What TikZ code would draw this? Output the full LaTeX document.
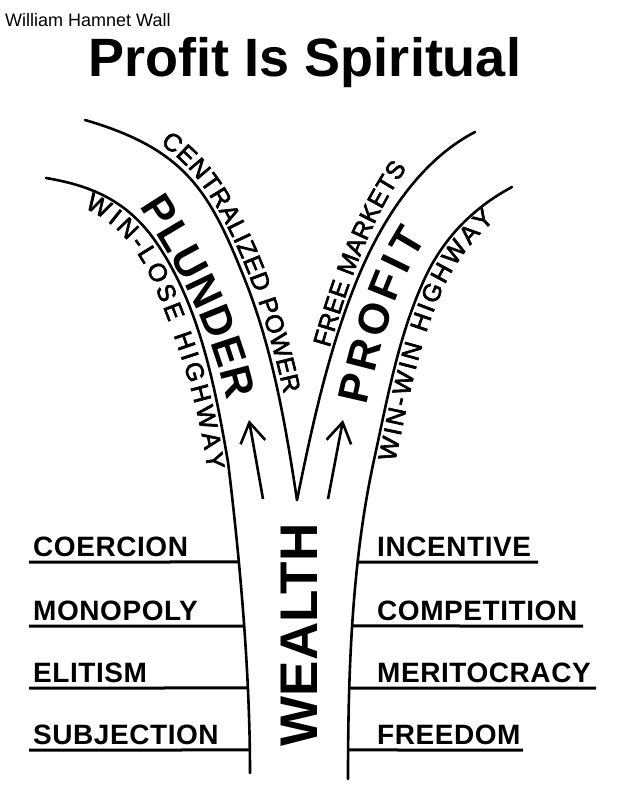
\documentclass[tikz,border=0pt]{standalone}
\usepackage{fontspec}
\setmainfont{Liberation Sans}
\usetikzlibrary{arrows.meta,decorations.text,intersections}
\newcommand\curvefont{\fontsize{25}{25}\selectfont\addfontfeature{FakeBold=2.5}}
\newcommand\roadfont{\fontsize{43}{43}\selectfont\bfseries}
\newcommand\listfont{\fontsize{28}{28}\selectfont\bfseries\addfontfeature{LetterSpace=2}}
\tikzset{
  road/.style={line width=2.6pt, line cap=round},
  rule/.style={line width=3pt},
  upar/.style={line width=2.6pt, -{Straight Barb[length=20pt,width=25pt,line width=2.6pt]}},
  lbl/.style={inner sep=0pt, anchor=base west, font=\listfont},
  curvelabel/.style={decorate, decoration={text along path, text align=fit to path, text={|\curvefont|#1}}},
  roadlabel/.style={decorate, decoration={text along path, text align=fit to path, text={|\roadfont|#1}}}
}
\begin{document}
\begin{tikzpicture}[x=1pt,y=-1pt]
\fill[white] (0,0) rectangle (618,800);
\useasboundingbox (0,0) rectangle (618,800);

% headings
\node[inner sep=0pt, anchor=base west, font=\fontsize{18}{18}\selectfont] (author) at (5,27) {William Hamnet Wall};
\node[inner sep=0pt, anchor=base, font=\fontsize{54}{54}\selectfont\bfseries] (title) at (305,77) {Profit Is Spiritual};

% road edges
\draw[road, name path=outerL] (46,178) .. controls (95.3,186.2) and (130.3,203.4) .. (158,245)
   .. controls (200.2,308.2) and (215.1,387.1) .. (228,462)
   .. controls (240,560) and (250,673) .. (250,773);
\draw[road] (85,120) .. controls (185.8,149.4) and (209.9,191.6) .. (245,280)
   .. controls (272.8,349.8) and (285.7,425.7) .. (297,500);
\draw[road] (297,500) .. controls (312.2,425.5) and (328.3,350.4) .. (357,280)
   .. controls (380.8,221.7) and (419,161) .. (475,132);
\draw[road, name path=outerR] (348,779) .. controls (348,674) and (351.6,562.6) .. (374,460)
   .. controls (387.2,399.4) and (398.3,336.4) .. (424,280)
   .. controls (442.6,239) and (472.4,208.2) .. (512,187);

% curved labels
\path[curvelabel={WIN-LOSE HIGHWAY}] (84,208) .. controls (118,222.4) and (140.2,252.1) .. (154.6,286.2) .. controls (179.4,345.2) and (199.2,406.6) .. (207.5,470);
\path[curvelabel={CENTRALIZED POWER}] (160,144) .. controls (187.4,162.5) and (206.9,188.5) .. (222.4,217.6) .. controls (252.1,273.2) and (270.1,332.5) .. (284,394);
\path[roadlabel={PLUNDER}] (139,207) .. controls (179,267.6) and (211,329.8) .. (227,401);
\path[curvelabel={FREE MARKETS}] (329.5,348) .. controls (348,284.6) and (370,220) .. (407,168);
\path[roadlabel={PROFIT}] (367,406) .. controls (380.2,347.5) and (394,287.8) .. (427,238);
\path[curvelabel={WIN-WIN HIGHWAY}] (395,462) .. controls (407.8,403.4) and (418.3,343.3) .. (443.1,288.7) .. controls (455.1,262.3) and (473.2,239.1) .. (495,220);

% arrows
\coordinate (la0) at (263,499);
\coordinate (la1) at (249,420);
\coordinate (ra0) at (328,499);
\coordinate (ra1) at (343,420);
\draw[upar] (la0) -- (la1);
\draw[upar] (ra0) -- (ra1);

% trunk label
\node[inner sep=0pt, rotate=90, font=\fontsize{53}{53}\selectfont\bfseries] (wealth) at (299,635) {WEALTH};

% rule rows meeting the trunk edges
\path[name path=h1] (0,562) -- (618,562);
\path[name path=h2] (0,626) -- (618,626);
\path[name path=h3] (0,688) -- (618,688);
\path[name path=h4] (0,750) -- (618,750);
\path[name intersections={of=outerL and h1, by=l1b}];
\path[name intersections={of=outerL and h2, by=l2b}];
\path[name intersections={of=outerL and h3, by=l3b}];
\path[name intersections={of=outerL and h4, by=l4b}];
\path[name intersections={of=outerR and h1, by=r1a}];
\path[name intersections={of=outerR and h2, by=r2a}];
\path[name intersections={of=outerR and h3, by=r3a}];
\path[name intersections={of=outerR and h4, by=r4a}];

% left list
\node[lbl] (coercion) at (33,556) {COERCION};
\node[lbl] (monopoly) at (33,620) {MONOPOLY};
\node[lbl] (elitism) at (33,682.5) {ELITISM};
\node[lbl] (subjection) at (33,744.5) {SUBJECTION};
\coordinate (l1a) at (29,562);
\coordinate (l2a) at (29,626);
\coordinate (l3a) at (29,688);
\coordinate (l4a) at (29,750);
\draw[rule] (l1a) -- (l1b);
\draw[rule] (l2a) -- (l2b);
\draw[rule] (l3a) -- (l3b);
\draw[rule] (l4a) -- (l4b);

% right list
\node[lbl] (incentive) at (377,556) {INCENTIVE};
\node[lbl] (competition) at (377,620) {COMPETITION};
\node[lbl] (meritocracy) at (377,682.5) {MERITOCRACY};
\node[lbl] (freedom) at (377,744.5) {FREEDOM};
\coordinate (r1b) at (538,562);
\coordinate (r2b) at (583,626);
\coordinate (r3b) at (596,688);
\coordinate (r4b) at (523,750);
\draw[rule] (r1a) -- (r1b);
\draw[rule] (r2a) -- (r2b);
\draw[rule] (r3a) -- (r3b);
\draw[rule] (r4a) -- (r4b);
\end{tikzpicture}
\end{document}
